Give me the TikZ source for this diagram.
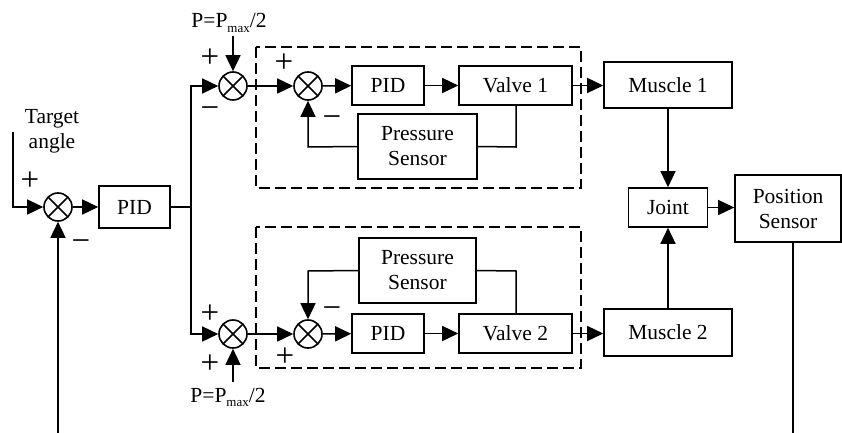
\documentclass[tikz,border=0pt]{standalone}
\usepackage{fontspec}
\setmainfont{Liberation Serif}
\usetikzlibrary{arrows.meta}
\begin{document}
\begin{tikzpicture}[x=1pt,y=-1pt,
  line width=1.5pt,
  every node/.style={font=\fontsize{21.5}{25}\selectfont},
  blk/.style={draw, inner sep=0pt, align=center, line width=1.6pt},
  sumj/.style={draw, circle, minimum size=28pt, inner sep=0pt, line width=1.6pt,
    path picture={\draw[line width=1.6pt] (path picture bounding box.north west) -- (path picture bounding box.south east)
      (path picture bounding box.north east) -- (path picture bounding box.south west);}},
  sgn/.style={font=\fontsize{33}{33}\selectfont, inner sep=0pt, anchor=base},
  dbox/.style={draw, dash pattern=on 11pt off 5pt, line width=1.6pt},
  arr/.style={-{Triangle[length=16pt,width=15pt]}},
]
\useasboundingbox (0,0) rectangle (842,433);

% left summing junction and PID
\node[sumj] (sA) at (58,207) {};
\node[blk, minimum width=71pt, minimum height=42pt] (pidA) at (134.5,207) {PID};
\node[align=center, inner sep=0pt] (tgt) at (52,131) {Target\\angle};
\coordinate (tin) at (13,132);
\coordinate (tc) at (13,207);
\coordinate (fbL) at (58,433);
\draw[arr] (tin) -- (tc) -- (sA);
\draw[arr] (sA) -- (pidA);
\draw[arr] (fbL) -- (sA);
\node[sgn] (sAp) at (30,190) {+};
\node[sgn] (sAm) at (81,251) {−};

% branch
\coordinate (br) at (191,207);
\coordinate (brT) at (191,86);
\coordinate (brB) at (191,334);
\draw (pidA) -- (br);
\node[sumj] (sB) at (233,86) {};
\node[sumj] (sC) at (233,334) {};
\draw[arr] (br) -- (brT) -- (sB);
\draw[arr] (br) -- (brB) -- (sC);

% P labels
\node[anchor=base, inner sep=0pt] (pT) at (229,28) {P=P\raisebox{-4.5pt}{\fontsize{13}{13}\selectfont max}/2};
\node[anchor=base, inner sep=0pt] (pB) at (228,402) {P=P\raisebox{-4.5pt}{\fontsize{13}{13}\selectfont max}/2};
\coordinate (pTin) at (233,36);
\coordinate (pBin) at (233,382);
\draw[arr] (pTin) -- (sB);
\draw[arr] (pBin) -- (sC);
\node[sgn] (sBp) at (210,68) {+};
\node[sgn] (sBm) at (210,118) {−};
\node[sgn] (sCp1) at (210,323) {+};
\node[sgn] (sCp2) at (210,373) {+};

% dashed boxes
\draw[dbox] (256,47) rectangle (581,188);
\draw[dbox] (256,227) rectangle (581,368);

% upper inner loop
\node[sumj] (sD) at (308,86) {};
\node[blk, minimum width=72pt, minimum height=39pt] (pid1) at (388,85.5) {PID};
\node[blk, minimum width=113pt, minimum height=39pt] (v1) at (515.5,85.5) {Valve 1};
\node[blk, minimum width=119pt, minimum height=65pt] (ps1) at (417.5,146.5) {Pressure\\Sensor};
\draw[arr] (sB) -- (sD);
\draw[arr] (sD) -- (pid1);
\draw[arr] (pid1) -- (v1);
\coordinate (v1d) at (516,147);
\coordinate (sDd) at (308,147);
\draw (v1.south -| v1d) -- (v1d) -- (ps1.east);
\draw[arr] (ps1.west) -- (sDd) -- (sD);
\node[sgn] (sDp) at (284,73) {+};
\node[sgn] (sDm) at (332,127) {−};

% lower inner loop
\node[sumj] (sE) at (308,334) {};
\node[blk, minimum width=72pt, minimum height=39pt] (pid2) at (388,333.5) {PID};
\node[blk, minimum width=113pt, minimum height=39pt] (v2) at (515.5,333.5) {Valve 2};
\node[blk, minimum width=117pt, minimum height=65pt] (ps2) at (417.5,270.5) {Pressure\\Sensor};
\draw[arr] (sC) -- (sE);
\draw[arr] (sE) -- (pid2);
\draw[arr] (pid2) -- (v2);
\coordinate (v2u) at (516,271);
\coordinate (sEu) at (308,271);
\draw (v2.north -| v2u) -- (v2u) -- (ps2.east);
\draw[arr] (ps2.west) -- (sEu) -- (sE);
\node[sgn] (sEm) at (332,318) {−};
\node[sgn] (sEp) at (285,366) {+};

% muscles, joint, sensor
\node[blk, minimum width=128pt, minimum height=46pt] (m1) at (668,85) {Muscle 1};
\node[blk, minimum width=128pt, minimum height=47pt] (m2) at (668,332.5) {Muscle 2};
\node[blk, minimum width=79pt, minimum height=39pt] (jt) at (668,207.5) {Joint};
\node[blk, minimum width=106pt, minimum height=67pt] (pos) at (788,208.5) {Position\\Sensor};
\draw[arr] (v1) -- (m1.west |- v1);
\draw[arr] (v2) -- (m2.west |- v2);
\draw[arr] (m1) -- (jt);
\draw[arr] (m2) -- (jt);
\draw[arr] (jt) -- (pos.west |- jt);
\coordinate (posb) at (793,433);
\draw (pos.south -| posb) -- (posb);
\end{tikzpicture}
\end{document}
